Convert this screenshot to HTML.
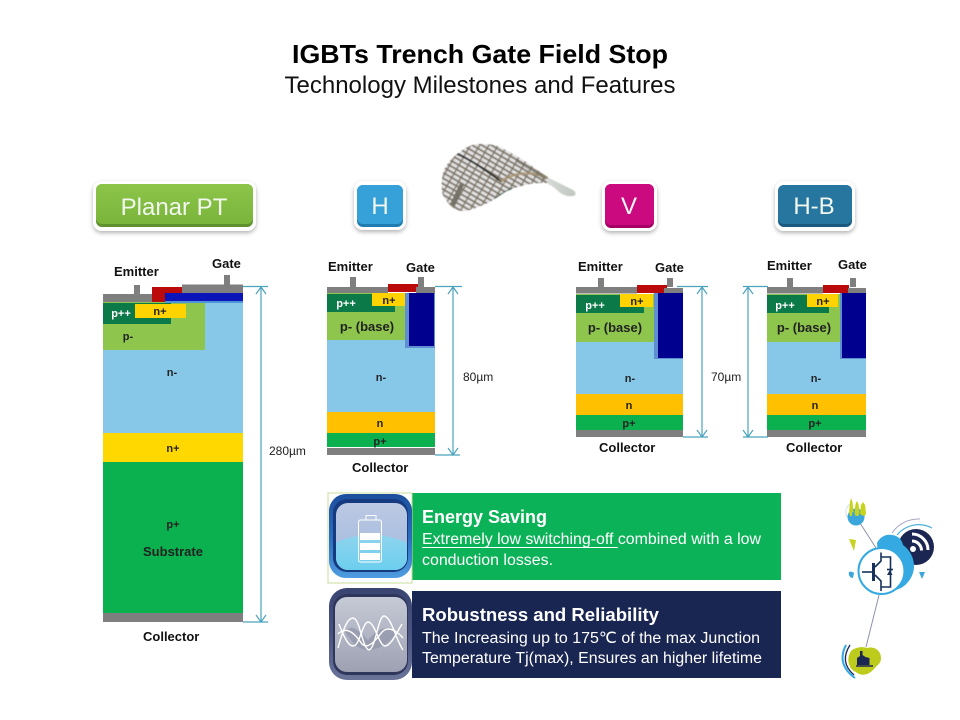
<!DOCTYPE html>
<html><head><meta charset="utf-8"><style>
html,body{margin:0;padding:0;background:#fff}
svg{display:block}
text{font-family:"Liberation Sans",sans-serif}
.l{font-size:13px;font-weight:bold;fill:#111}
.s{font-size:11px;font-weight:bold;fill:#222;text-anchor:middle}
.m{font-size:13px;font-weight:bold;fill:#222;text-anchor:middle}
.w{font-size:11px;font-weight:bold;fill:#fff;text-anchor:middle}
.d{stroke:#4aa3bd;stroke-width:1.2;fill:none}
.b{fill:#f2f8f0;text-anchor:middle;font-size:24px}
.p{fill:#fff;font-size:15.500px}
.h{fill:#fff;font-size:18px;font-weight:bold}
</style></head><body>
<svg width="960" height="720" viewBox="0 0 960 720" xmlns="http://www.w3.org/2000/svg">
<defs>
<filter id="sh" x="-20%" y="-20%" width="140%" height="140%"><feDropShadow dx="0" dy="2" stdDeviation="2" flood-color="#000" flood-opacity=".3"/></filter>
<filter id="bl"><feGaussianBlur stdDeviation=".35"/></filter>
<filter id="bw"><feGaussianBlur stdDeviation=".4"/></filter>
<linearGradient id="r1" x1="0" y1="0" x2="0" y2="1"><stop offset="0" stop-color="#1c4f9e"/><stop offset=".5" stop-color="#2a6cbc"/><stop offset="1" stop-color="#4f9ce0"/></linearGradient>
<linearGradient id="r2" x1="0" y1="0" x2="0" y2="1"><stop offset="0" stop-color="#3a4470"/><stop offset=".5" stop-color="#4a5480"/><stop offset="1" stop-color="#6a7398"/></linearGradient>
<linearGradient id="ib" x1="0" y1="0" x2="0" y2="1"><stop offset="0" stop-color="#bcc9e4"/><stop offset="1" stop-color="#9fb8dc"/></linearGradient>
<linearGradient id="ic" x1="0" y1="0" x2="0" y2="1"><stop offset="0" stop-color="#8fd4ee"/><stop offset="1" stop-color="#45c8ee"/></linearGradient>
<linearGradient id="ig" x1="0" y1="0" x2="0" y2="1"><stop offset="0" stop-color="#c6cad6"/><stop offset="1" stop-color="#9da1b2"/></linearGradient>
<linearGradient id="g1" x1="0" y1="0" x2="0" y2="1"><stop offset="0" stop-color="#8cc54a"/><stop offset="1" stop-color="#7ab43a"/></linearGradient>
<pattern id="cells" width="8" height="4.800" patternUnits="userSpaceOnUse" patternTransform="rotate(30)">
<rect width="8" height="4.800" fill="#7d7465"/><rect x=".7" y=".9" width="6.600" height="3" fill="#e2e2e4"/>
</pattern>
<linearGradient id="wt" x1="0" y1="0" x2="1" y2="0"><stop offset="0" stop-color="#d8dcd8"/><stop offset="1" stop-color="#c0c6c0"/></linearGradient>
<clipPath id="wc"><path d="M460 152 C467 146 473 144 480 144 C490 144 497 145 502 148 C512 153 520 158 528 163 C535 168 541 173 548 177 L547 183 C540 183 532 183 525 185 C517 187 511 189 505 192 C498 197 493 200 488 203 C480 206 472 210 465 211 C459 211 455 210 452 207 C446 201 443 197 442 192 C441 183 442 175 445 168 C449 161 454 156 460 152Z"/></clipPath>
<clipPath id="fc"><rect x="336" y="503" width="71" height="67" rx="12"/></clipPath>
</defs>

<!-- Title -->
<text x="480" y="63" text-anchor="middle" font-size="26" font-weight="bold" fill="#000" textLength="376" lengthAdjust="spacingAndGlyphs">IGBTs Trench Gate Field Stop</text>
<text x="480" y="93" text-anchor="middle" font-size="24" fill="#111" textLength="391" lengthAdjust="spacingAndGlyphs">Technology Milestones and Features</text>

<!-- Wafer -->
<g filter="url(#bw)">
<path d="M545 176 C555 181 565 186 573 190 C577 193 576 196 572 196 C568 197 563 195 559 192 C555 188 551 185 546 183Z" fill="url(#wt)"/>
<g clip-path="url(#wc)">
<rect x="438" y="140" width="115" height="75" fill="url(#cells)"/>
<path d="M455 153 C472 160 488 172 502 182" stroke="#2a2a25" stroke-width="2" fill="none"/>
<path d="M500 182 C512 173 530 170 548 178" stroke="#a8946f" stroke-width="2.500" fill="none" opacity=".8"/>
<path d="M516 160 C524 165 536 172 546 179" stroke="#6b6a5a" stroke-width="3" fill="none" opacity=".6"/>
<path d="M460 183 L464 185 L455 206 L450 204Z" fill="#75726a"/>
<path d="M494 199 C500 194 506 190 514 187 L506 194Z" fill="#22503a"/>
</g>
</g>

<!-- Buttons -->
<g filter="url(#sh)">
<rect x="93" y="181" width="163" height="50" rx="9" fill="#fff"/>
<rect x="354" y="181" width="52" height="49" rx="9" fill="#fff"/>
<rect x="602" y="181" width="55" height="50" rx="9" fill="#fff"/>
<rect x="775" y="181" width="80" height="50" rx="9" fill="#fff"/>
</g>
<rect x="96" y="184" width="157" height="43" rx="6" fill="#5f8f2e"/><rect x="96" y="184" width="157" height="40" rx="6" fill="url(#g1)"/>
<rect x="357" y="185" width="46" height="42" rx="6" fill="#1f7cb0"/><rect x="357" y="185" width="46" height="39" rx="6" fill="#36a0d8"/>
<rect x="605" y="184" width="49" height="44" rx="6" fill="#a50066"/><rect x="605" y="184" width="49" height="41" rx="6" fill="#cc0a80"/>
<rect x="778" y="185" width="74" height="42" rx="6" fill="#1b5a7e"/><rect x="778" y="185" width="74" height="39" rx="6" fill="#27769f"/>
<text x="174" y="215" class="b">Planar PT</text>
<text x="380" y="214" class="b">H</text>
<text x="629" y="214" class="b">V</text>
<text x="814" y="214" class="b">H-B</text>

<!-- Planar PT -->
<rect x="103" y="303" width="140" height="130" fill="#87c8e9"/>
<rect x="103" y="302" width="102" height="48" fill="#8ec64d"/>
<rect x="103" y="303" width="68" height="21" fill="#0c7a48"/>
<rect x="135" y="304" width="51" height="14" fill="#ffd300"/>
<rect x="103" y="294" width="49" height="8" fill="#7f7f7f"/>
<rect x="134" y="285" width="6" height="9" fill="#7f7f7f"/>
<rect x="152" y="287" width="31" height="15" fill="#bb0a0a"/>
<rect x="182" y="284.500" width="61" height="8.500" fill="#7f7f7f"/>
<rect x="165" y="293" width="78" height="9" fill="#0a14b8"/>
<rect x="165" y="301" width="78" height="2" fill="#4f94d8"/>
<rect x="224" y="275" width="6" height="9.500" fill="#7f7f7f"/>
<rect x="103" y="433" width="140" height="29" fill="#ffd800"/>
<rect x="103" y="462" width="140" height="151" fill="#0bb04f"/>
<rect x="103" y="613" width="140" height="9" fill="#7f7f7f"/>
<text class="l" x="114" y="276">Emitter</text>
<text class="l" x="212" y="268">Gate</text>
<text class="w" x="121" y="317">p++</text>
<text class="s" x="160" y="315">n+</text>
<text class="s" x="128" y="340">p-</text>
<text class="s" x="172" y="376">n-</text>
<text class="s" x="173" y="452">n+</text>
<text class="s" x="173" y="528">p+</text>
<text class="m" x="173" y="556">Substrate</text>
<text class="l" x="143" y="641">Collector</text>
<path class="d" d="M243 286.500H268M243 622H268M261 287V622M256 294L261 287L266 294M256 615L261 622L266 615"/>
<text x="269" y="455" font-size="12" fill="#222">280µm</text>

<!-- H -->
<rect x="327" y="340" width="108" height="72" fill="#87c8e9"/>
<rect x="327" y="293" width="78" height="47" fill="#8ec64d"/>
<rect x="327" y="294" width="68" height="18" fill="#0c7a48"/>
<rect x="372" y="293" width="33" height="13" fill="#ffd300"/>
<rect x="327" y="287" width="61" height="6" fill="#7f7f7f"/>
<rect x="350" y="277" width="6" height="10" fill="#7f7f7f"/>
<rect x="418" y="277" width="6" height="10" fill="#7f7f7f"/>
<rect x="388" y="284" width="30" height="8" fill="#bb0a0a"/>
<rect x="416" y="287" width="19" height="6" fill="#7f7f7f"/>
<rect x="405" y="293" width="30" height="55" fill="#5f8fd0"/>
<rect x="409" y="293" width="25" height="53" fill="#00008f"/>
<rect x="327" y="412" width="108" height="21" fill="#ffc000"/>
<rect x="327" y="433" width="108" height="14" fill="#0bb04f"/>
<rect x="327" y="448" width="108" height="7" fill="#7f7f7f"/>
<text class="l" x="328" y="271">Emitter</text>
<text class="l" x="406" y="272">Gate</text>
<text class="w" x="346" y="307">p++</text>
<text class="s" x="389" y="304">n+</text>
<text class="m" x="367" y="331">p- (base)</text>
<text class="s" x="381" y="381">n-</text>
<text class="s" x="380" y="427">n</text>
<text class="s" x="380" y="445">p+</text>
<text class="l" x="352" y="472">Collector</text>
<path class="d" d="M435 286.500H462M435 455H460M453 287V455M448 294L453 287L458 294M448 448L453 455L458 448"/>
<text x="463" y="381" font-size="12" fill="#222">80µm</text>

<!-- V -->
<rect x="576" y="342" width="107" height="52" fill="#87c8e9"/>
<rect x="576" y="294" width="78" height="48" fill="#8ec64d"/>
<rect x="576" y="295" width="68" height="18" fill="#0c7a48"/>
<rect x="620" y="294" width="33" height="13" fill="#ffd300"/>
<rect x="576" y="287" width="61" height="6.500" fill="#7f7f7f"/>
<rect x="598" y="278" width="6" height="9" fill="#7f7f7f"/>
<rect x="667" y="278" width="6" height="9" fill="#7f7f7f"/>
<rect x="637" y="285" width="30" height="8" fill="#bb0a0a"/>
<rect x="664" y="288" width="19" height="5" fill="#7f7f7f"/>
<rect x="654" y="293" width="29" height="66" fill="#5f8fd0"/>
<rect x="658" y="293" width="25" height="65" fill="#00008f"/>
<rect x="576" y="394" width="107" height="21" fill="#ffc000"/>
<rect x="576" y="415" width="107" height="15" fill="#0bb04f"/>
<rect x="576" y="430" width="107" height="7" fill="#7f7f7f"/>
<text class="l" x="578" y="271">Emitter</text>
<text class="l" x="655" y="272">Gate</text>
<text class="w" x="595" y="309">p++</text>
<text class="s" x="637" y="305">n+</text>
<text class="m" x="615" y="332">p- (base)</text>
<text class="s" x="630" y="382">n-</text>
<text class="s" x="629" y="409">n</text>
<text class="s" x="629" y="427">p+</text>
<text class="l" x="599" y="452">Collector</text>
<path class="d" d="M677 286.500H708M683 437H708M702 287V437M697 294L702 287L707 294M697 430L702 437L707 430"/>
<text x="711" y="381" font-size="12" fill="#222">70µm</text>

<!-- H-B -->
<rect x="767" y="342" width="99" height="52" fill="#87c8e9"/>
<rect x="767" y="294" width="73" height="48" fill="#8ec64d"/>
<rect x="767" y="295" width="62" height="18" fill="#0c7a48"/>
<rect x="807" y="294" width="31" height="13" fill="#ffd300"/>
<rect x="767" y="287" width="56" height="6.500" fill="#7f7f7f"/>
<rect x="787" y="278" width="6" height="9" fill="#7f7f7f"/>
<rect x="850" y="278" width="6" height="9" fill="#7f7f7f"/>
<rect x="823" y="285" width="26" height="8" fill="#bb0a0a"/>
<rect x="848" y="288" width="18" height="5" fill="#7f7f7f"/>
<rect x="840" y="293" width="26" height="66" fill="#5f8fd0"/>
<rect x="842" y="293" width="24" height="65" fill="#00008f"/>
<rect x="767" y="394" width="99" height="21" fill="#ffc000"/>
<rect x="767" y="415" width="99" height="15" fill="#0bb04f"/>
<rect x="767" y="430" width="99" height="7" fill="#7f7f7f"/>
<text class="l" x="767" y="270">Emitter</text>
<text class="l" x="838" y="269">Gate</text>
<text class="w" x="785" y="309">p++</text>
<text class="s" x="823" y="305">n+</text>
<text class="m" x="804" y="332">p- (base)</text>
<text class="s" x="816" y="382">n-</text>
<text class="s" x="815" y="409">n</text>
<text class="s" x="815" y="427">p+</text>
<text class="l" x="786" y="452">Collector</text>
<path class="d" d="M743 286.500H768M743 437H768M748 287V437M743 294L748 287L753 294M743 430L748 437L753 430"/>

<!-- Panels -->
<rect x="412" y="493" width="369" height="87" fill="#0bb257"/>
<rect x="412" y="591" width="369" height="87" fill="#1a2652"/>
<text class="h" x="422" y="523">Energy Saving</text>
<text class="p" x="422" y="544" textLength="339" lengthAdjust="spacingAndGlyphs">Extremely low switching-off combined with a low</text>
<rect x="422" y="547" width="196" height="1" fill="#fff"/>
<text class="p" x="422" y="565" textLength="131" lengthAdjust="spacingAndGlyphs">conduction losses.</text>
<text class="h" x="422" y="621" textLength="237" lengthAdjust="spacingAndGlyphs">Robustness and Reliability</text>
<text class="p" x="422" y="643" textLength="338" lengthAdjust="spacingAndGlyphs">The Increasing up to 175℃  of the max Junction</text>
<text class="p" x="422" y="663" textLength="340" lengthAdjust="spacingAndGlyphs">Temperature Tj(max), Ensures an higher lifetime</text>

<!-- Icon 1 -->
<rect x="328" y="493" width="84" height="90" fill="#fff" stroke="#c9dc9a"/>
<rect x="329" y="494" width="83" height="84" rx="17" fill="url(#r1)"/>
<rect x="333" y="499" width="75" height="73" rx="14" fill="#163a80"/>
<g clip-path="url(#fc)">
<rect x="336" y="503" width="71" height="67" fill="url(#ib)"/>
<ellipse cx="371" cy="572" rx="58" ry="37" fill="url(#ic)"/>
</g>
<g fill="none" stroke="#fff" stroke-width="1"><rect x="358.500" y="520" width="23" height="42" rx="2"/><rect x="366" y="515.500" width="10" height="4.500"/></g>
<g fill="#fff"><rect x="360" y="533" width="20" height="7"/><rect x="360" y="543" width="20" height="7"/><rect x="360" y="553" width="20" height="7"/></g>

<!-- Icon 2 -->
<rect x="329" y="588" width="83" height="92" rx="18" fill="url(#r2)"/>
<rect x="333" y="594" width="75" height="81" rx="14" fill="#2e365c"/>
<rect x="335" y="597" width="72" height="75" rx="12" fill="url(#ig)"/>
<path d="M345 632 C352 622 360 632 368 640 C376 632 384 622 396 634 C388 645 376 650 368 650 C358 650 350 640 345 632Z" fill="#8b8fa3" opacity=".6"/>
<g fill="none" stroke="#fff" stroke-width="1.400">
<path d="M338 648 C344 626 348 618 353 618 C360 618 362 648 369 650 C376 648 378 616 384 616 C391 616 396 640 403 650"/>
<path d="M339 624 C345 640 349 646 353 646 C360 646 362 623 368 622 C375 622 379 646 385 646 C391 646 397 632 402 624"/>
<path d="M338 634 C346 626 354 632 362 644 C368 650 376 640 382 632 C388 626 396 630 403 638"/>
</g>

<!-- Right icon -->
<g filter="url(#bl)">
<path d="M860 523L876 548M879 595L866 647" stroke="#8c93ac" stroke-width="1"/>
<path d="M852 503a10 10 0 0 0 -5 14" fill="none" stroke="#c9dce8" stroke-width=".8"/>
<circle cx="856" cy="517" r="8.500" fill="#3aa6dc"/>
<g fill="#c6d21e"><path d="M849 512l1-10 1-4 1.500 4 1 10h-1l-.5 4h-2z"/><path d="M854.500 513l1-9 1.500-3 1.500 3 1 9-1 3h-3z"/><path d="M860 513l1-8 2-3 2 3 1 8-1 3-4-1z"/></g>
<path d="M849 539L856 540 854 551Z" fill="#c6d21e"/>
<path d="M849 572c2-1 4 0 5 1l-1 5c-3 0-5-3-4-6z" fill="#3aa6dc"/>
<path d="M919 572l6 0-3 7z" fill="#3aa6dc"/>
<path d="M892 533a32 32 0 0 1 28-14" fill="none" stroke="#a9a3c4" stroke-width="1"/>
<path d="M897 535a28 28 0 0 1 35-7" fill="none" stroke="#4cb0dc" stroke-width="1.200"/>
<circle cx="916" cy="547" r="18" fill="#1a2652"/>
<path d="M912 534a16 16 0 0 1 16 16M912 541a9.500 9.500 0 0 1 9.500 9.500" fill="none" stroke="#fff" stroke-width="3"/>
<circle cx="913" cy="549" r="3" fill="#fff"/>
<path d="M877 543c3-6 9-9 14-8 6 0 11 4 12 10 7 5 11 13 11 21 0 10-6 18-13 22-8 4-14 1-20 3z" fill="#36a9e1"/>
<circle cx="881.500" cy="571" r="23" fill="#fff" stroke="#36a9e1" stroke-width="2"/>
<g fill="none" stroke="#14305c" stroke-width="1.600">
<path d="M862 572H872"/>
<path d="M873.500 563V581" stroke-width="3"/>
<path d="M875 567L881 561V552.500M881 557H890.500V587H880.500"/>
<path d="M875 575L881 581V591"/>
<path d="M887 569.500H893"/>
</g>
<path d="M887 575h5.500l-2.700-5z" fill="#14305c"/>
<path d="M852 650c7-4 12-3 15-2 8-2 14 3 14 10 0 6-4 7-7 11-6 7-14 7-18 3-7-2-11-14-4-22z" fill="#bccb1e"/>
<path d="M857 665v-7l3-2v-5h2.500v4l3 2 4 1v7z" fill="#1a2652"/>
<path d="M856 666h17" stroke="#1a2652" stroke-width="1.500"/>
<path d="M846 645Q836 664 855 678" fill="none" stroke="#36a9e1" stroke-width="2"/>
<path d="M850 645Q839 662 854 675" fill="none" stroke="#1a2652" stroke-width="1.300"/>
</g>
</svg>
</body></html>
